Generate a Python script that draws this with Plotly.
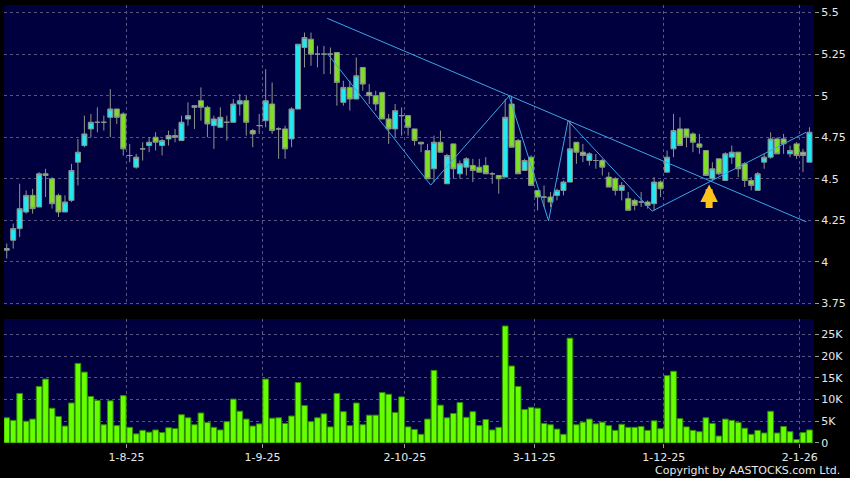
import pandas as pd
import plotly.graph_objects as go

# HK trading calendar for the 6-month window
holidays = ["2025-10-01", "2025-10-07", "2025-10-29", "2025-12-25", "2025-12-26", "2026-01-01"]
dates = pd.bdate_range("2025-07-07", periods=125, freq="C", holidays=holidays)

opens = [4.07, 4.13, 4.20, 4.30, 4.40, 4.33, 4.53, 4.50, 4.40, 4.30, 4.37, 4.60, 4.70, 4.80, 4.84, 4.84, 4.87, 4.92, 4.89, 4.64,
         4.57, 4.68, 4.70, 4.75, 4.70, 4.74, 4.76, 4.73, 4.86, 4.93, 4.97, 4.93, 4.82, 4.81, 4.84, 4.84, 4.95, 4.97, 4.79, 4.82,
         4.85, 4.95, 4.80, 4.80, 4.74, 4.92, 5.29, 5.34, 5.25, 5.25, 5.25, 5.26, 4.96, 5.05, 4.98, 5.17, 5.02, 5.00, 5.02, 4.86,
         4.80, 4.88, 4.88, 4.80, 4.72, 4.67, 4.56, 4.72, 4.47, 4.71, 4.53, 4.57, 4.58, 4.57, 4.58, 4.53, 4.52, 4.51, 4.95, 4.73,
         4.55, 4.63, 4.43, 4.39, 4.39, 4.40, 4.43, 4.48, 4.72, 4.66, 4.61, 4.61, 4.61, 4.51, 4.50, 4.43, 4.38, 4.37, 4.36, 4.36,
         4.35, 4.48, 4.54, 4.68, 4.80, 4.80, 4.77, 4.71, 4.67, 4.50, 4.62, 4.49, 4.63, 4.66, 4.59, 4.49, 4.43, 4.60, 4.63, 4.74,
         4.74, 4.65, 4.71, 4.66, 4.60]
highs = [4.11, 4.23, 4.47, 4.43, 4.44, 4.54, 4.56, 4.51, 4.41, 4.40, 4.59, 4.74, 4.88, 4.89, 4.93, 4.88, 5.04, 4.92, 4.90, 4.71,
         4.65, 4.72, 4.75, 4.78, 4.74, 4.79, 4.80, 4.88, 4.96, 4.94, 5.05, 4.94, 4.88, 4.93, 4.88, 4.98, 5.01, 5.00, 4.80, 4.89,
         5.16, 5.08, 4.81, 4.82, 4.93, 5.31, 5.38, 5.38, 5.30, 5.30, 5.29, 5.26, 5.09, 5.09, 5.23, 5.17, 5.07, 5.03, 5.02, 4.89,
         4.95, 4.93, 4.88, 4.80, 4.72, 4.71, 4.76, 4.79, 4.65, 4.71, 4.61, 4.63, 4.62, 4.62, 4.63, 4.54, 4.52, 4.98, 5.00, 4.74,
         4.62, 4.64, 4.43, 4.46, 4.42, 4.44, 4.49, 4.85, 4.72, 4.71, 4.66, 4.65, 4.62, 4.54, 4.51, 4.48, 4.42, 4.38, 4.42, 4.37,
         4.51, 4.49, 4.67, 4.89, 4.87, 4.80, 4.78, 4.77, 4.67, 4.60, 4.62, 4.66, 4.70, 4.66, 4.60, 4.51, 4.54, 4.65, 4.78, 4.75,
         4.77, 4.70, 4.72, 4.68, 4.81]
lows = [4.02, 4.08, 4.15, 4.29, 4.29, 4.33, 4.39, 4.32, 4.27, 4.30, 4.36, 4.46, 4.69, 4.75, 4.78, 4.79, 4.75, 4.83, 4.64, 4.60,
        4.56, 4.61, 4.66, 4.67, 4.64, 4.70, 4.72, 4.73, 4.82, 4.80, 4.85, 4.75, 4.68, 4.81, 4.73, 4.84, 4.88, 4.76, 4.69, 4.77,
        4.81, 4.77, 4.62, 4.62, 4.69, 4.92, 5.17, 5.18, 5.17, 5.13, 5.13, 4.94, 4.94, 4.91, 4.98, 5.03, 4.95, 4.91, 4.86, 4.71,
        4.75, 4.76, 4.76, 4.70, 4.66, 4.50, 4.48, 4.66, 4.47, 4.50, 4.50, 4.52, 4.48, 4.54, 4.53, 4.47, 4.41, 4.51, 4.69, 4.53,
        4.55, 4.46, 4.31, 4.33, 4.33, 4.37, 4.40, 4.48, 4.59, 4.60, 4.58, 4.56, 4.52, 4.45, 4.40, 4.37, 4.31, 4.31, 4.33, 4.32,
        4.31, 4.39, 4.54, 4.63, 4.70, 4.69, 4.66, 4.65, 4.52, 4.49, 4.52, 4.49, 4.59, 4.51, 4.45, 4.43, 4.43, 4.56, 4.62, 4.65,
        4.65, 4.63, 4.62, 4.54, 4.60]
closes = [4.08, 4.20, 4.32, 4.40, 4.32, 4.53, 4.52, 4.35, 4.30, 4.36, 4.55, 4.66, 4.77, 4.84, 4.84, 4.84, 4.92, 4.87, 4.68, 4.64,
          4.63, 4.68, 4.72, 4.72, 4.73, 4.76, 4.75, 4.84, 4.88, 4.94, 4.93, 4.83, 4.86, 4.87, 4.84, 4.95, 4.97, 4.84, 4.77, 4.82,
          4.97, 4.79, 4.80, 4.68, 4.92, 5.31, 5.35, 5.25, 5.25, 5.25, 5.25, 5.08, 5.05, 4.98, 5.12, 5.07, 5.00, 4.95, 4.86, 4.80,
          4.91, 4.88, 4.81, 4.73, 4.71, 4.50, 4.72, 4.66, 4.64, 4.56, 4.59, 4.62, 4.55, 4.54, 4.53, 4.53, 4.50, 4.87, 4.69, 4.53,
          4.61, 4.46, 4.39, 4.39, 4.36, 4.43, 4.48, 4.68, 4.66, 4.64, 4.65, 4.61, 4.57, 4.45, 4.43, 4.46, 4.31, 4.34, 4.36, 4.34,
          4.48, 4.44, 4.63, 4.79, 4.70, 4.75, 4.72, 4.69, 4.52, 4.56, 4.53, 4.65, 4.66, 4.56, 4.49, 4.46, 4.53, 4.63, 4.74, 4.65,
          4.71, 4.67, 4.64, 4.64, 4.78]
# volume in thousands of shares
volume_k = [5.8, 5.2, 11.4, 5.0, 5.5, 13.0, 14.7, 8.0, 6.1, 3.9, 9.2, 18.3, 16.3, 10.7, 9.8, 4.2, 9.7, 4.0, 10.9, 3.6,
            2.1, 2.9, 2.5, 3.0, 2.4, 3.5, 3.3, 6.5, 5.8, 4.2, 6.9, 4.7, 3.6, 3.0, 4.9, 10.1, 7.3, 5.5, 3.9, 4.4,
            14.7, 5.7, 5.8, 4.5, 6.2, 13.9, 8.6, 4.9, 5.8, 6.7, 3.7, 11.4, 7.2, 4.0, 9.2, 4.2, 6.4, 6.4, 11.6, 11.2,
            7.0, 10.6, 3.7, 3.1, 2.0, 5.5, 16.7, 8.7, 5.8, 6.8, 9.3, 5.9, 7.2, 4.0, 5.4, 3.0, 3.6, 26.9, 17.7, 13.0,
            7.7, 8.2, 8.0, 4.5, 4.2, 3.2, 2.0, 24.1, 4.2, 4.8, 5.5, 4.4, 4.8, 4.0, 2.9, 4.3, 3.6, 3.6, 3.8, 2.9,
            5.1, 3.3, 15.5, 16.5, 5.6, 3.7, 2.9, 2.6, 5.8, 4.5, 1.6, 5.5, 5.2, 4.7, 3.4, 2.0, 2.9, 2.3, 7.3, 2.3,
            3.8, 2.6, 0.8, 2.4, 3.0]

# drawn trend lines (bar index, price)
trend_x = [49.5, 123.5]
trend_y = [5.466, 4.241]
zigzag_x = [49.5, 65.5, 77.6, 83.7, 86.7, 99.7, 123.5]
zigzag_y = [5.255, 4.462, 4.998, 4.247, 4.849, 4.305, 4.780]
signal_x = 108.5
signal_y = 4.465

price_ticks = [3.75, 4, 4.25, 4.5, 4.75, 5, 5.25, 5.5]
vol_ticks = [0, 5, 10, 15, 20, 25]
vol_labels = ["0", "5K", "10K", "15K", "20K", "25K"]

idx = list(range(len(dates)))
month_pos, month_lbl = [], []
for i in range(1, len(dates)):
    if dates[i].month != dates[i - 1].month:
        month_pos.append(i - 0.5)
        month_lbl.append(f"{dates[i].day}-{dates[i].month}-{dates[i].strftime('%y')}")

BG = "#00003e"
GRID = "#55557f"
TXT = "#e8e8e8"
LINE = "#3aa6e6"

fig = go.Figure()
fig.add_trace(go.Candlestick(
    x=idx, open=opens, high=highs, low=lows, close=closes,
    increasing=dict(fillcolor="#22e8f2", line=dict(color="#8c948c", width=1)),
    decreasing=dict(fillcolor="#7ee021", line=dict(color="#8c948c", width=1)),
    whiskerwidth=0, xaxis="x", yaxis="y", showlegend=False,
    text=[d.strftime("%d-%m-%Y") for d in dates], hoverinfo="text+y"
))
fig.add_trace(go.Scatter(x=trend_x, y=trend_y, mode="lines", line=dict(color=LINE, width=1),
                         xaxis="x", yaxis="y", showlegend=False, hoverinfo="skip"))
fig.add_trace(go.Scatter(x=zigzag_x, y=zigzag_y, mode="lines", line=dict(color=LINE, width=1),
                         xaxis="x", yaxis="y", showlegend=False, hoverinfo="skip"))
fig.add_trace(go.Bar(x=idx, y=volume_k, marker=dict(color="#66ff00", line=dict(color="#2f8a00", width=1)),
                     xaxis="x2", yaxis="y2", showlegend=False))

# buy-signal arrow
fig.add_annotation(x=signal_x, y=signal_y, xref="x", yref="y", text="", showarrow=True,
                   ax=0, ay=25, arrowhead=2, arrowsize=0.5, arrowwidth=7, arrowcolor="#ffc21a")
fig.add_annotation(x=1, y=0, xref="paper", yref="paper", xanchor="right", yanchor="middle", yshift=-27, xshift=28,
                   text="Copyright by AASTOCKS.com Ltd.", showarrow=False, font=dict(size=11, color=TXT))

axis_common = dict(showgrid=True, gridcolor=GRID, griddash="3px,3px", gridwidth=1, zeroline=False,
                   showline=False, tickfont=dict(size=11, color=TXT), ticks="outside", ticklen=4, tickcolor="#9a9a9a")

fig.update_layout(
    width=850, height=478,
    margin=dict(l=4, r=32, t=5, b=35),
    paper_bgcolor="#000000", plot_bgcolor=BG,
    font=dict(family="DejaVu Sans", size=11, color=TXT),
    bargap=0.12, boxgap=0.12, boxgroupgap=0.12,
    xaxis=dict(domain=[0, 1], anchor="y", range=[-0.42, 124.7], tickvals=month_pos, ticktext=month_lbl,
               showticklabels=False, rangeslider=dict(visible=False), **axis_common),
    yaxis=dict(domain=[0.315, 1], anchor="x", side="right", range=[3.74, 5.546], tickvals=price_ticks,
               ticktext=[f"{t:g}" for t in price_ticks], **axis_common),
    xaxis2=dict(domain=[0, 1], anchor="y2", matches="x", tickvals=month_pos, ticktext=month_lbl, **axis_common),
    yaxis2=dict(domain=[0, 0.283], anchor="x2", side="right", range=[0, 28.5], tickvals=vol_ticks,
                ticktext=vol_labels, **axis_common),
    hovermode="closest",
)
fig.update_xaxes(ticks="", selector=dict(anchor="y"))

fig.write_html("out.html", config={"displayModeBar": False},
               post_script="document.body.style.margin='0';")
